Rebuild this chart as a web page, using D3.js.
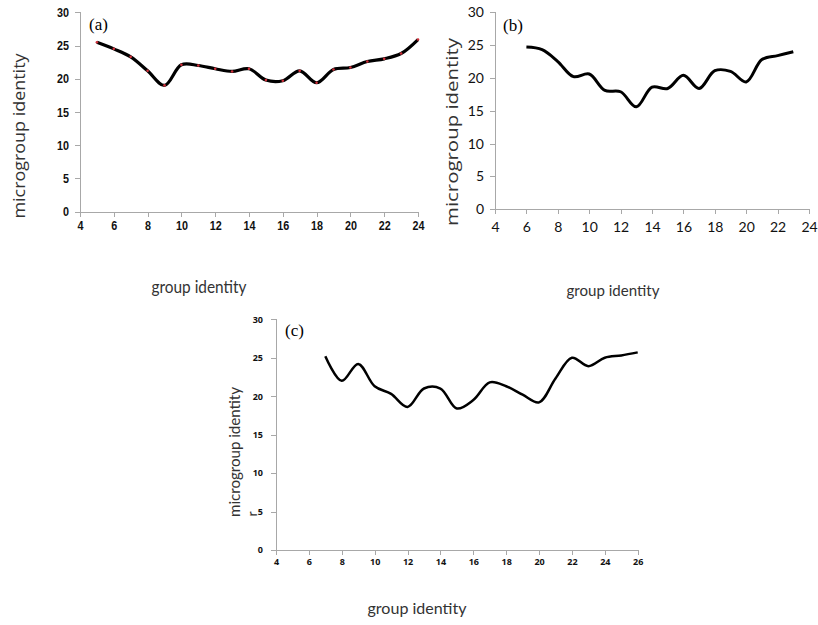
<!DOCTYPE html>
<html>
<head>
<meta charset="utf-8">
<script src="https://cdn.jsdelivr.net/npm/d3@7"></script>
<style>
  body { margin: 0; background: #fff; }
  svg { display: block; }
  .axis path, .axis line { stroke: #a8a8a8; stroke-width: 1px; shape-rendering: crispEdges; }
  .series { fill: none; stroke: #000; }
</style>
</head>
<body>
<svg width="818" height="625"></svg>
<script>
// panel (a)
const groupA = [5, 6, 7, 8, 9, 10, 11, 12, 13, 14, 15, 16, 17, 18, 19, 20, 21, 22, 23, 24];
const microA = [25.5, 24.5, 23.3, 21.2, 19.0, 22.1, 22.0, 21.5, 21.1, 21.5, 19.8, 19.7, 21.2, 19.4, 21.4, 21.7, 22.6, 23.0, 23.8, 25.9];
// panel (b)
const groupB = [6, 7, 8, 9, 10, 11, 12, 13, 14, 15, 16, 17, 18, 19, 20, 21, 22, 23];
const microB = [24.7, 24.3, 22.5, 20.2, 20.6, 18.1, 17.9, 15.6, 18.6, 18.4, 20.4, 18.4, 21.1, 21.0, 19.4, 22.8, 23.4, 24.0];
// panel (c)
const groupC = [7, 8, 9, 10, 11, 12, 13, 14, 15, 16, 17, 18, 19, 20, 21, 22, 23, 24, 25, 26];
const microC = [25.2, 22.0, 24.2, 21.3, 20.3, 18.6, 21.0, 21.0, 18.4, 19.5, 21.8, 21.3, 20.2, 19.2, 22.3, 25.0, 23.9, 25.0, 25.3, 25.7];

const yTicks = [0, 5, 10, 15, 20, 25, 30];
const xTicksAB = [4, 6, 8, 10, 12, 14, 16, 18, 20, 22, 24];
const xTicksC = [4, 6, 8, 10, 12, 14, 16, 18, 20, 22, 24, 26];

const svg = d3.select("svg");

function drawPanel(p) {
    const x = d3.scaleLinear().domain(p.xDomain).range([p.left, p.right]);
    const y = d3.scaleLinear().domain([0, 30]).range([p.bottom, p.top]);
    const g = svg.append("g");

    // axes
    const xAxis = g.append("g").attr("class", "axis")
        .attr("transform", `translate(0,${p.bottom})`)
        .call(d3.axisBottom(x).tickValues(p.xTicks).tickSizeOuter(0).tickSize(5).tickPadding(p.xPad));
    const yAxis = g.append("g").attr("class", "axis")
        .attr("transform", `translate(${p.left},0)`)
        .call(d3.axisLeft(y).tickValues(yTicks).tickSizeOuter(0).tickSize(5).tickPadding(p.yPad));
    [xAxis, yAxis].forEach(a => {
        const t = a.selectAll("text")
            .attr("fill", "#111")
            .style("font-family", p.tickFont)
            .style("font-size", p.tickSize + "px")
            .style("font-weight", p.tickWeight);
        // narrow digits in panel (a)
        if (p.digitW) t.attr("textLength", d => String(d).length * p.digitW).attr("lengthAdjust", "spacingAndGlyphs");
    });

    // curve
    const pts = p.xs.map((d, i) => [d, p.ys[i]]);
    g.append("path").datum(pts)
        .attr("class", "series")
        .attr("stroke-width", p.lineWidth)
        .attr("d", d3.line().x(d => x(d[0])).y(d => y(d[1])).curve(d3.curveCatmullRom.alpha(0.5)));

    if (p.dots) {
        g.selectAll(".dot").data(pts).enter().append("circle")
            .attr("cx", d => x(d[0])).attr("cy", d => y(d[1]))
            .attr("r", 1.3).attr("fill", "#d0303a");
    }

    // panel tag
    g.append("text").attr("x", p.tag[0]).attr("y", p.tag[1])
        .style("font-family", "Liberation Serif, serif").style("font-size", "17px")
        .text(p.label);

    // y label (stretched to the length it has in the picture)
    g.append("text")
        .attr("transform", `translate(${p.yLab[0]},${p.yLab[1]}) rotate(-90)`)
        .attr("text-anchor", "middle").attr("fill", "#333")
        .attr("textLength", p.yLabLen).attr("lengthAdjust", "spacingAndGlyphs")
        .style("font-family", p.labFont).style("font-size", p.yLabSize + "px")
        .text("microgroup identity");

    // x label
    g.append("text")
        .attr("x", p.xLab[0]).attr("y", p.xLab[1])
        .attr("text-anchor", "middle").attr("fill", "#333")
        .attr("textLength", p.xLabLen).attr("lengthAdjust", "spacingAndGlyphs")
        .style("font-family", p.xLabFont).style("font-size", p.xLabSize + "px")
        .text("group identity");
    return g;
}

drawPanel({
    xs: groupA, ys: microA, xDomain: [4, 24], xTicks: xTicksAB,
    left: 80, right: 418, top: 12.3, bottom: 211.7,
    tickFont: "Liberation Sans, sans-serif", tickSize: 13, tickWeight: "bold", digitW: 6, xPad: 4, yPad: 6,
    lineWidth: 3.2, dots: true, label: "(a)", tag: [89, 30],
    labFont: "Open Sans, sans-serif", yLab: [25, 136], yLabSize: 15.5, yLabLen: 165,
    xLabFont: "Lato, sans-serif", xLab: [199, 293], xLabSize: 17, xLabLen: 95
});

drawPanel({
    xs: groupB, ys: microB, xDomain: [4, 24], xTicks: xTicksAB,
    left: 495, right: 809, top: 12.3, bottom: 209.3,
    tickFont: "Lato, sans-serif", tickSize: 14, tickWeight: "normal", xPad: 8, yPad: 6,
    lineWidth: 3, dots: false, label: "(b)", tag: [503, 31],
    labFont: "Open Sans, sans-serif", yLab: [458, 132], yLabSize: 16.5, yLabLen: 188,
    xLabFont: "Lato, sans-serif", xLab: [613, 296], xLabSize: 16, xLabLen: 93
});

const gc = drawPanel({
    xs: groupC, ys: microC, xDomain: [4, 26], xTicks: xTicksC,
    left: 276, right: 637.7, top: 319.3, bottom: 550,
    tickFont: "Open Sans, sans-serif", tickSize: 9, tickWeight: "bold", xPad: 4, yPad: 8,
    lineWidth: 2.5, dots: false, label: "(c)", tag: [285, 336],
    labFont: "Lato, sans-serif", yLab: [240, 452], yLabSize: 14.5, yLabLen: 130,
    xLabFont: "Lato, sans-serif", xLab: [417, 614], xLabSize: 15, xLabLen: 99
});

// stray glyph next to the 5 tick in panel (c)
gc.append("text")
    .attr("transform", "translate(257,514) rotate(-90)")
    .attr("text-anchor", "middle").attr("fill", "#333")
    .style("font-family", "Lato, sans-serif").style("font-size", "14px")
    .text("r");
</script>
</body>
</html>
